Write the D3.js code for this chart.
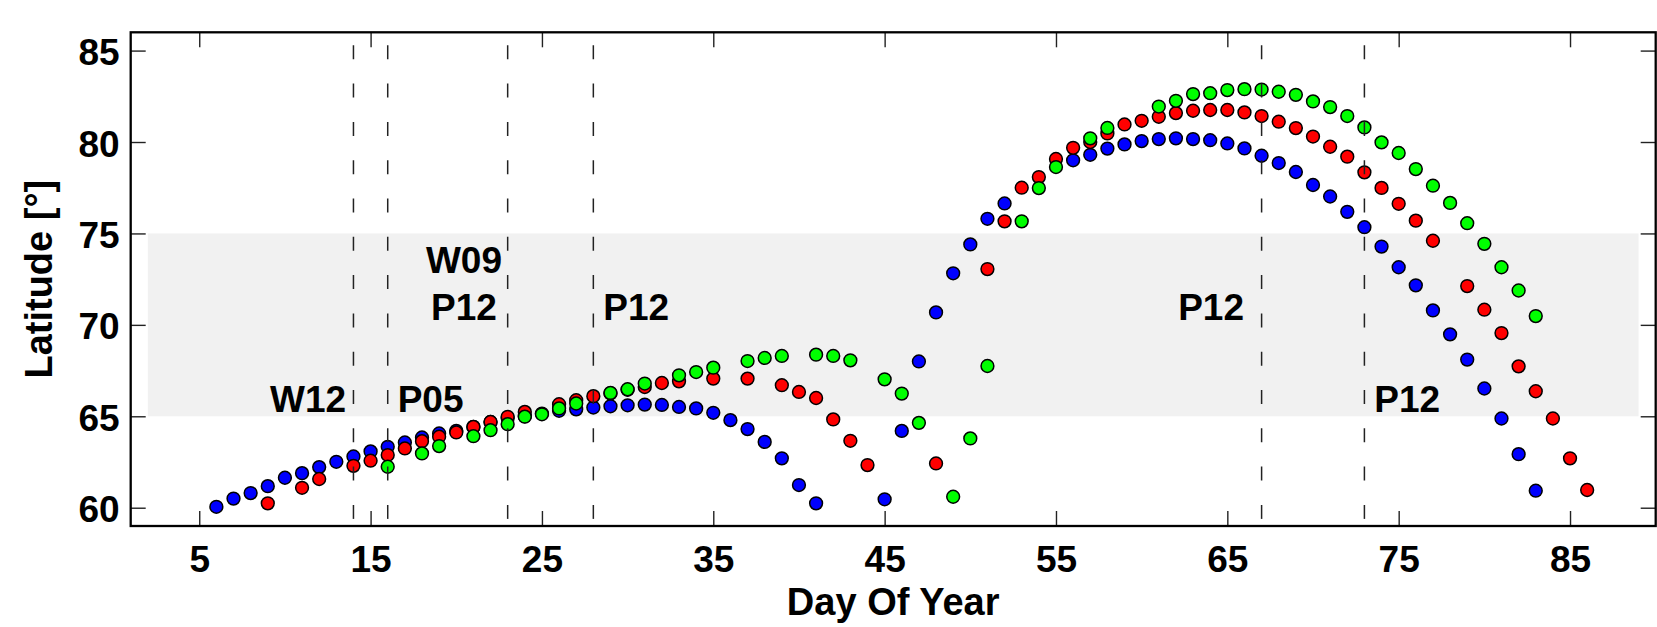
<!DOCTYPE html>
<html>
<head>
    <meta charset="UTF-8">
    <title>Latitude vs Day Of Year</title>
    <script src="https://cdn.jsdelivr.net/npm/d3@7"></script>
    <style>
        body { margin: 0; background: #fff; }
        text { font-family: "Liberation Sans", Arial, Helvetica, sans-serif; font-weight: bold; fill: #000; }
    </style>
</head>
<body>
<script>
// blue track
var blueDays = [6,7,8,9,10,11,12,13,14,15,16,17,18,19,20,21,22,23,24,25,26,27,28,29,30,31,32,33,34,35,36,37,38,39,40,41,
                45,46,47,48,49,50,51,52,
                56,57,58,59,60,61,62,63,64,65,66,67,68,69,70,71,72,73,74,75,76,77,78,79,80,81,82,83];
var blueLat = [60.05,60.5,60.8,61.18,61.64,61.89,62.22,62.51,62.8,63.08,63.33,63.57,63.84,64.06,64.2,64.42,64.69,64.9,65.0,65.15,
               65.3,65.38,65.48,65.55,65.6,65.64,65.62,65.51,65.43,65.19,64.79,64.3,63.6,62.7,61.24,60.24,
               60.46,64.2,68.0,70.68,72.82,74.4,75.8,76.64,
               79.0,79.3,79.64,79.87,80.05,80.16,80.2,80.16,80.1,79.92,79.65,79.25,78.85,78.36,77.65,77.02,76.18,75.34,
               74.28,73.15,72.16,70.79,69.48,68.1,66.52,64.88,62.93,60.93];

// red track
var redDays = [9,11,12,14,15,16,17,18,19,20,21,22,23,24,26,27,28,29,30,31,32,33,35,37,39,40,41,42,43,44,
               48,51,52,53,54,55,56,57,58,59,60,61,62,63,64,65,66,67,68,69,70,71,72,73,74,75,76,77,79,80,81,82,83,84,85,86];
var redLat = [60.24,61.09,61.57,62.29,62.57,62.88,63.24,63.64,63.88,64.12,64.42,64.69,64.97,65.24,65.66,65.88,66.1,66.25,66.45,66.6,
              66.82,66.91,67.06,67.06,66.7,66.33,66.0,64.83,63.66,62.33,
              62.42,73.05,75.66,77.5,78.08,79.07,79.68,80.0,80.47,80.96,81.16,81.38,81.58,81.71,81.75,81.75,81.62,81.42,81.11,80.76,
              80.3,79.74,79.2,78.34,77.49,76.62,75.7,74.6,72.12,70.83,69.55,67.73,66.37,64.88,62.7,60.97];

// green track
var greenDays = [16,18,19,21,22,23,24,25,26,27,29,30,31,33,34,35,37,38,39,41,42,43,45,46,47,49,50,51,53,54,55,57,58,
                 61,62,63,64,65,66,67,68,69,70,71,72,73,74,75,76,77,78,79,80,81,82,83];
var greenLat = [62.24,62.97,63.37,63.91,64.24,64.57,64.98,65.11,65.43,65.7,66.28,66.48,66.79,67.24,67.42,67.66,68.02,68.19,68.3,68.37,
                68.3,68.06,67.02,66.24,64.64,60.6,63.79,67.75,75.66,77.48,78.63,80.2,80.77,
                81.94,82.25,82.62,82.67,82.84,82.89,82.87,82.75,82.58,82.22,81.91,81.42,80.8,79.98,79.4,78.52,77.61,76.67,75.56,74.43,73.15,71.88,70.48];

// event lines and their labels
var eventDays = [14, 16, 23, 28, 67, 73];
var labelText = ["W12", "P05", "W09", "P12", "P12", "P12", "P12"];
var labelDay  = [11.35, 18.5, 20.45, 20.45, 30.5, 64.05, 75.5];
var labelLat  = [65.25, 65.25, 72.85, 70.26, 70.26, 70.26, 65.25];

// shaded latitude band
var bandDays = [2, 89];
var bandLat = [65, 75];

var xTicks = [5, 15, 25, 35, 45, 55, 65, 75, 85];
var yTicks = [60, 65, 70, 75, 80, 85];

var W = 1657, H = 627;
// plot box (named so they don't clash with window.top etc.)
var pLeft = 130.7, pRight = 1655.7, pTop = 32.3, pBottom = 526;

var svg = d3.select("body").append("svg")
        .attr("width", W)
        .attr("height", H);

var x = d3.scaleLinear().domain([1, 90]).range([pLeft, pRight]);
var y = d3.scaleLinear().domain([59, 86]).range([pBottom, pTop]);

// grey band 65-75
svg.append("rect")
        .attr("x", x(bandDays[0]))
        .attr("y", y(bandLat[1]))
        .attr("width", x(bandDays[1]) - x(bandDays[0]))
        .attr("height", y(bandLat[0]) - y(bandLat[1]))
        .attr("fill", "#f1f1f1");

// the three series, blue under red under green
var series = [
    {days: blueDays, lat: blueLat, color: "#0000ff"},
    {days: redDays, lat: redLat, color: "#ff0000"},
    {days: greenDays, lat: greenLat, color: "#00ff00"}
];

series.forEach(function (s) {
    svg.append("g").selectAll("circle")
            .data(s.days)
            .enter()
            .append("circle")
            .attr("cx", function (d) { return x(d); })
            .attr("cy", function (d, i) { return y(s.lat[i]); })
            .attr("r", 6.4)
            .attr("fill", s.color)
            .attr("stroke", "#000")
            .attr("stroke-width", 1.5);
});

// dashed event lines
svg.append("g").selectAll("line")
        .data(eventDays)
        .enter()
        .append("line")
        .attr("x1", function (d) { return x(d); })
        .attr("x2", function (d) { return x(d); })
        .attr("y1", pTop)
        .attr("y2", pBottom)
        .attr("stroke", "#222")
        .attr("stroke-width", 1.5)
        .attr("stroke-dasharray", "14,24.3")
        .attr("stroke-dashoffset", 25.3);

svg.append("g").selectAll("text")
        .data(labelText)
        .enter()
        .append("text")
        .attr("x", function (d, i) { return x(labelDay[i]); })
        .attr("y", function (d, i) { return y(labelLat[i]); })
        .attr("text-anchor", "middle")
        .style("font-size", "37px")
        .text(function (d) { return d; });

// axes, ticks point inward on all four sides
var xAxis = svg.append("g")
        .attr("transform", "translate(0," + pBottom + ")")
        .call(d3.axisBottom(x).tickValues(xTicks).tickSize(-15).tickSizeOuter(0).tickPadding(20));
var yAxis = svg.append("g")
        .attr("transform", "translate(" + pLeft + ",0)")
        .call(d3.axisLeft(y).tickValues(yTicks).tickSize(-15).tickSizeOuter(0).tickPadding(11));
svg.append("g")
        .attr("transform", "translate(0," + pTop + ")")
        .call(d3.axisTop(x).tickValues(xTicks).tickSize(-15).tickSizeOuter(0).tickFormat(""));
svg.append("g")
        .attr("transform", "translate(" + pRight + ",0)")
        .call(d3.axisRight(y).tickValues(yTicks).tickSize(-15).tickSizeOuter(0).tickFormat(""));

svg.selectAll(".domain").remove();
svg.selectAll(".tick line").attr("stroke", "#222").attr("stroke-width", 1.4);
svg.selectAll(".tick text")
        .style("font-size", "37px")
        .style("font-family", "'Liberation Sans', Arial, sans-serif")
        .style("font-weight", "bold")
        .attr("fill", "#000");
yAxis.selectAll(".tick text").attr("dy", "0.38em");

// frame
svg.append("rect")
        .attr("x", pLeft)
        .attr("y", pTop)
        .attr("width", pRight - pLeft)
        .attr("height", pBottom - pTop)
        .attr("fill", "none")
        .attr("stroke", "#000")
        .attr("stroke-width", 2.3);

// axis titles
svg.append("text")
        .attr("x", (pLeft + pRight) / 2)
        .attr("y", 615)
        .attr("text-anchor", "middle")
        .style("font-size", "38px")
        .text("Day Of Year");

svg.append("text")
        .attr("transform", "translate(52," + ((pTop + pBottom) / 2) + ") rotate(-90)")
        .attr("text-anchor", "middle")
        .style("font-size", "38px")
        .text("Latitude [°]");
</script>
</body>
</html>
